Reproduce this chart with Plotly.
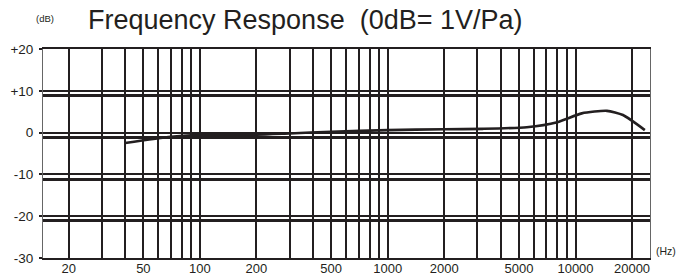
import plotly.graph_objects as go

# ---- data ----
freq_hz = [40, 70, 100, 200, 300, 500, 1000, 2000, 3200, 5500, 8000, 10800, 14700, 17900, 23400]
level_db = [-2.5, -1.0, -0.6, -0.5, -0.2, 0.2, 0.6, 0.8, 0.9, 1.3, 2.5, 4.6, 5.2, 4.2, 0.6]

grid_freqs = [20, 30, 40, 50, 60, 70, 80, 90,
              100, 200, 300, 400, 500, 600, 700, 800, 900,
              1000, 2000, 3000, 4000, 5000, 6000, 7000, 8000, 9000,
              10000, 20000]
labelled_freqs = [20, 50, 100, 200, 500, 1000, 2000, 5000, 10000, 20000]

db_ticks = [20, 10, 0, -10, -20, -30]
db_tick_text = ["+20", "+10", "0", "-10", "-20", "-30"]
db_grid = [10, 0, -10, -20]

INK = "#231f20"
FONT = "Liberation Sans, Arial, sans-serif"

x_text = [str(f) if f in labelled_freqs else "" for f in grid_freqs]

fig = go.Figure()
fig.add_trace(go.Scatter(
    x=freq_hz, y=level_db, mode="lines",
    line=dict(color=INK, width=2.6, shape="spline", smoothing=0.6),
    hoverinfo="skip", showlegend=False,
))
# invisible trace to activate second y axis (thick companion grid lines)
fig.add_trace(go.Scatter(x=[freq_hz[0]], y=[0], yaxis="y2", mode="markers",
                         marker=dict(opacity=0), hoverinfo="skip", showlegend=False))

fig.update_layout(
    width=692, height=277,
    margin=dict(l=43, r=42, t=49, b=19, autoexpand=False),
    paper_bgcolor="white", plot_bgcolor="white",
    font=dict(family=FONT, color=INK, size=13),
    xaxis=dict(
        type="log",
        range=[1.16454, 4.3967],
        tickvals=grid_freqs, ticktext=x_text,
        showgrid=True, gridcolor=INK, gridwidth=2,
        ticks="", showline=True, linecolor=INK, linewidth=1.5, mirror=True,
        ticklabelstandoff=-2,
        tickfont=dict(size=13, color=INK),
        zeroline=False, fixedrange=True, automargin=False,
    ),
    yaxis=dict(
        range=[-30, 20],
        tickvals=db_ticks, ticktext=db_tick_text,
        showgrid=True, gridcolor=INK, gridwidth=2,
        ticks="outside", ticklen=3, tickwidth=2, tickcolor=INK,
        ticklabelstandoff=3,
        showline=True, linecolor="#666", linewidth=1, mirror=True,
        tickfont=dict(size=13.5, color=INK),
        zeroline=False, fixedrange=True, automargin=False,
    ),
    yaxis2=dict(
        overlaying="y", side="right",
        range=[-28.9, 21.1],
        tickvals=db_grid, showticklabels=False, ticks="",
        showgrid=True, gridcolor=INK, gridwidth=3,
        showline=False, zeroline=False, fixedrange=True, automargin=False,
    ),
    annotations=[
        dict(text="Frequency Response  (0dB= 1V/Pa)", xref="paper", yref="paper",
             x=(86 - 43) / 607, y=(258 - 20) / 209, xanchor="left", yanchor="middle",
             showarrow=False, font=dict(size=27, color=INK, family=FONT)),
        dict(text="(dB)", xref="paper", yref="paper",
             x=(34 - 43) / 607, y=(258 - 19) / 209, xanchor="left", yanchor="middle",
             showarrow=False, font=dict(size=9.5, color=INK, family=FONT)),
        dict(text="(Hz)", xref="paper", yref="paper",
             x=(654 - 43) / 607, y=(258 - 251) / 209, xanchor="left", yanchor="middle",
             showarrow=False, font=dict(size=10.5, color=INK, family=FONT)),
    ],
)

fig.write_html(
    "out.html",
    config={"displayModeBar": False},
    post_script="document.body.style.margin='0';document.body.style.padding='0';",
)
